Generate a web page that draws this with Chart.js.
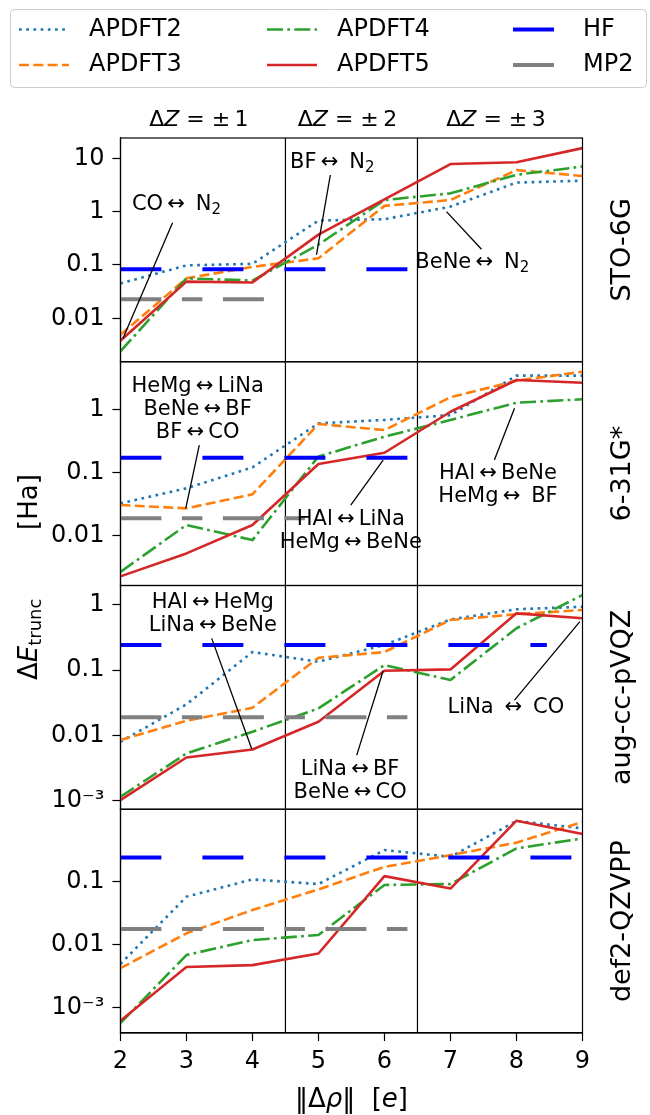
<!DOCTYPE html>
<html>
<head>
<meta charset="utf-8">
<title>APDFT truncation error</title>
<script src="https://cdn.jsdelivr.net/npm/chart.js@4.4.0/dist/chart.umd.min.js"></script>
<style>
  html, body { margin: 0; padding: 0; background: #fff; }
  #wrap { width: 650px; height: 1115px; }
</style>
</head>
<body>
<div id="wrap"><canvas id="chart" width="650" height="1115"></canvas></div>
<script>
const xVals = [2, 3, 4, 5, 6, 7, 8, 9];
const basisNames = ['STO-6G', '6-31G*', 'aug-cc-pVQZ', 'def2-QZVPP'];
const seriesNames = ['APDFT2', 'APDFT3', 'APDFT4', 'APDFT5'];

// STO-6G
const sto6gA2 = [0.045, 0.098, 0.105, 0.68, 0.72, 1.24, 3.5, 3.8];
const sto6gA3 = [0.0049, 0.056, 0.092, 0.133, 1.28, 1.65, 6.0, 4.65];
const sto6gA4 = [0.0024, 0.056, 0.051, 0.24, 1.65, 2.2, 4.9, 7.0];
const sto6gA5 = [0.0038, 0.0486, 0.047, 0.37, 1.7, 7.8, 8.4, 15.5];
// 6-31G*
const g631A2 = [0.0327, 0.0565, 0.121, 0.6, 0.68, 0.81, 3.4, 3.4];
const g631A3 = [0.0308, 0.0273, 0.0454, 0.586, 0.47, 1.55, 2.83, 3.93];
const g631A4 = [0.0027, 0.0149, 0.0086, 0.18, 0.37, 0.68, 1.27, 1.44];
const g631A5 = [0.0023, 0.0053, 0.0149, 0.137, 0.206, 0.916, 2.9, 2.63];
// aug-cc-pVQZ
const augA2 = [0.008, 0.03, 0.19, 0.135, 0.244, 0.6, 0.86, 0.94];
const augA3 = [0.0085, 0.0168, 0.0266, 0.155, 0.19, 0.59, 0.72, 0.84];
const augA4 = [0.00115, 0.0053, 0.0114, 0.026, 0.12, 0.071, 0.44, 1.42];
const augA5 = [0.00102, 0.0046, 0.0061, 0.0162, 0.098, 0.103, 0.745, 0.625];
// def2-QZVPP
const defA2 = [0.0049, 0.0577, 0.109, 0.092, 0.32, 0.25, 0.93, 0.71];
const defA3 = [0.0042, 0.0151, 0.0354, 0.0757, 0.173, 0.266, 0.42, 0.90];
const defA4 = [0.00056, 0.0068, 0.0118, 0.0142, 0.089, 0.092, 0.34, 0.49];
const defA5 = [0.00061, 0.0044, 0.0047, 0.0072, 0.123, 0.078, 0.94, 0.575];

// reference levels (HF, MP2) and how far along x they run
const hfLevel = [0.083, 0.172, 0.244, 0.244];
const mp2Level = [0.0227, 0.019, 0.019, 0.0177];
const hfEnd = [6.5, 6.5, 8.46, 9];
const mp2End = [4.4, 5.0, 6.5, 6.5];

// y axes
const yMin = [0.00153, 0.00165, 0.00074, 0.00039];
const yMax = [24.0, 5.64, 1.99, 1.43];
const yTickVals = [[0.01, 0.1, 1, 10], [0.01, 0.1, 1], [0.001, 0.01, 0.1, 1], [0.001, 0.01, 0.1]];
const yTickText = [['0.01', '0.1', '1', '10'], ['0.01', '0.1', '1'], ['10\u207B\u00B3', '0.01', '0.1', '1'], ['10\u207B\u00B3', '0.01', '0.1']];

// sections of |dZ|
const sectionEdges = [4.5, 6.5];
const sectionTitles = ['1', '2', '3'];

const panelData = [
  [sto6gA2, sto6gA3, sto6gA4, sto6gA5],
  [g631A2, g631A3, g631A4, g631A5],
  [augA2, augA3, augA4, augA5],
  [defA2, defA3, defA4, defA5]
];

// labelled pairs: text centre, leader line start/end (data coords)
const notes = [
  { panel: 0, lines: ['CO\u2009\u2194\u2009 N_2'], at: [2.85, 1.33], from: [2.79, 0.62], to: [2.04, 0.0042] },
  { panel: 0, lines: ['BF\u2009\u2194\u2009 N_2'], at: [5.21, 8.2], from: [5.18, 4.86], to: [4.97, 0.154] },
  { panel: 0, lines: ['BeNe\u2009\u2194\u2009 N_2'], at: [7.33, 0.109], from: [7.47, 0.197], to: [6.94, 1.0] },
  { panel: 1, lines: ['HeMg\u2009\u2194\u2009LiNa', 'BeNe\u2009\u2194\u2009BF', 'BF\u2009\u2194\u2009CO'], at: [3.17, 0.975], from: [3.195, 0.273], to: [2.99, 0.0273] },
  { panel: 1, lines: ['HAl\u2009\u2194\u2009LiNa', 'HeMg\u2009\u2194\u2009BeNe'], at: [5.49, 0.012], from: [5.49, 0.0308], to: [5.98, 0.158] },
  { panel: 1, lines: ['HAl\u2009\u2194\u2009BeNe', 'HeMg\u2009\u2194\u2009 BF'], at: [7.72, 0.063], from: [7.665, 0.158], to: [7.97, 1.04] },
  { panel: 2, lines: ['HAl\u2009\u2194\u2009HeMg', 'LiNa\u2009\u2194\u2009BeNe'], at: [3.40, 0.72], from: [3.383, 0.308], to: [3.99, 0.0062] },
  { panel: 2, lines: ['LiNa\u2009\u2194\u2009BF', 'BeNe\u2009\u2194\u2009CO'], at: [5.48, 0.0020], from: [5.58, 0.005], to: [5.98, 0.098] },
  { panel: 2, lines: ['LiNa \u2009\u2194\u2009 CO'], at: [7.84, 0.0266], from: [7.97, 0.0349], to: [8.96, 0.555] }
];

const FONT = "'DejaVu Sans', sans-serif";
const seriesColors = ['#1f77b4', '#ff7f0e', '#2ca02c', '#d62728'];
const seriesDash = [[2.7, 4.5], [10, 4.3], [16, 4.3, 2.7, 4.3], []];
const hfStyle = { color: '#0000ff', dash: [41, 41] };
const mp2Style = { color: '#808080', dash: [41, 20.5, 20.5, 20.5] };

Chart.defaults.font.family = FONT;
Chart.defaults.color = '#000';

const datasets = [];
panelData.forEach((group, p) => {
  const yID = 'y' + p;
  group.forEach((vals, s) => {
    datasets.push({
      label: seriesNames[s],
      yAxisID: yID,
      data: xVals.map((x, i) => ({ x: x, y: vals[i] })),
      borderColor: seriesColors[s],
      borderWidth: 2.6,
      borderDash: seriesDash[s],
      borderJoinStyle: 'round',
      pointRadius: 0,
      fill: false,
      order: 6 - s
    });
  });
  datasets.push({
    label: 'HF', yAxisID: yID,
    data: [{ x: xVals[0], y: hfLevel[p] }, { x: hfEnd[p], y: hfLevel[p] }],
    borderColor: hfStyle.color, borderWidth: 4, borderDash: hfStyle.dash, pointRadius: 0, order: 2
  });
  datasets.push({
    label: 'MP2', yAxisID: yID,
    data: [{ x: xVals[0], y: mp2Level[p] }, { x: mp2End[p], y: mp2Level[p] }],
    borderColor: mp2Style.color, borderWidth: 4, borderDash: mp2Style.dash, pointRadius: 0, order: 1
  });
});

const scales = {
  x: {
    type: 'linear', position: 'bottom', min: 2, max: 9,
    ticks: { stepSize: 1, font: { size: 24 }, padding: 6, color: '#000' },
    grid: { drawOnChartArea: false, tickLength: 8, tickColor: '#000', tickWidth: 1.2 },
    border: { color: '#000', width: 1.2 },
    afterFit: function (s) { s.height = 82; }
  }
};
basisNames.forEach((b, p) => {
  scales['y' + p] = {
    type: 'logarithmic', position: 'left', stack: 'panels', stackWeight: 1, weight: 4 - p,
    min: yMin[p], max: yMax[p],
    afterBuildTicks: function (s) { s.ticks = yTickVals[p].map(v => ({ value: v })); },
    ticks: {
      autoSkip: false, font: { size: 24 }, padding: 8, color: '#000',
      callback: function (v) {
        const k = yTickVals[p].indexOf(v);
        return k < 0 ? '' : yTickText[p][k];
      }
    },
    grid: { drawOnChartArea: false, tickLength: 8, tickColor: '#000', tickWidth: 1.2 },
    border: { color: '#000', width: 1.2 },
    afterFit: function (s) { s.width = 120.4; }
  };
});

function drawRich(ctx, parts, x, y, align) {
  let w = 0;
  parts.forEach(pt => { ctx.font = pt.font; w += ctx.measureText(pt.t).width; });
  let cx = align === 'center' ? x - w / 2 : x;
  parts.forEach(pt => {
    ctx.font = pt.font;
    ctx.fillText(pt.t, cx, y + (pt.dy || 0));
    cx += ctx.measureText(pt.t).width;
  });
}

function noteParts(str, size) {
  const k = str.indexOf('_');
  if (k < 0) return [{ t: str, font: size + 'px ' + FONT }];
  return [
    { t: str.slice(0, k), font: size + 'px ' + FONT },
    { t: str.slice(k + 1), font: Math.round(size * 0.7) + 'px ' + FONT, dy: 5 }
  ];
}

const decorations = {
  id: 'decorations',
  beforeDatasetsDraw(chart) {
    const ctx = chart.ctx;
    const xs = chart.scales.x;
    ctx.save();
    ctx.strokeStyle = '#000';
    ctx.lineWidth = 1.2;
    sectionEdges.forEach(e => {
      const px = xs.getPixelForValue(e);
      ctx.beginPath();
      ctx.moveTo(px, chart.chartArea.top);
      ctx.lineTo(px, chart.chartArea.bottom);
      ctx.stroke();
    });
    ctx.restore();
  },
  afterDatasetsDraw(chart) {
    const ctx = chart.ctx;
    const xs = chart.scales.x;
    const area = chart.chartArea;
    ctx.save();
    // panel frames
    ctx.strokeStyle = '#000';
    ctx.lineWidth = 1.2;
    basisNames.forEach((b, p) => {
      const ys = chart.scales['y' + p];
      ctx.strokeRect(area.left, ys.top, area.right - area.left, ys.bottom - ys.top);
    });
    // annotations
    notes.forEach(n => {
      const ys = chart.scales['y' + n.panel];
      ctx.strokeStyle = '#000';
      ctx.lineWidth = 1.3;
      ctx.beginPath();
      ctx.moveTo(xs.getPixelForValue(n.from[0]), ys.getPixelForValue(n.from[1]));
      ctx.lineTo(xs.getPixelForValue(n.to[0]), ys.getPixelForValue(n.to[1]));
      ctx.stroke();
      const cx = xs.getPixelForValue(n.at[0]);
      const cy = ys.getPixelForValue(n.at[1]);
      const lh = 23;
      ctx.fillStyle = '#000';
      ctx.textAlign = 'left';
      ctx.textBaseline = 'middle';
      n.lines.forEach((ln, i) => {
        const y = cy + (i - (n.lines.length - 1) / 2) * lh;
        drawRich(ctx, noteParts(ln, 21), cx, y, 'center');
      });
    });
    ctx.restore();
  },
  afterDraw(chart) {
    const ctx = chart.ctx;
    const xs = chart.scales.x;
    const area = chart.chartArea;
    ctx.save();
    ctx.fillStyle = '#000';
    ctx.textBaseline = 'middle';
    ctx.textAlign = 'left';

    // section titles
    const bounds = [xs.min].concat(sectionEdges, [xs.max]);
    sectionTitles.forEach((t, i) => {
      const mid = (bounds[i] + bounds[i + 1]) / 2;
      drawRich(ctx, [
        { t: '\u0394', font: '22px ' + FONT },
        { t: 'Z', font: 'italic 22px ' + FONT },
        { t: ' = \u00B1\u2009' + t, font: '22px ' + FONT }
      ], xs.getPixelForValue(mid) - 4, 120, 'center');
    });

    // basis set names on the right
    basisNames.forEach((b, p) => {
      const ys = chart.scales['y' + p];
      ctx.save();
      ctx.translate(623, (ys.top + ys.bottom) / 2);
      ctx.rotate(-Math.PI / 2);
      ctx.textAlign = 'center';
      ctx.font = '27px ' + FONT;
      ctx.fillText(b, 0, 0);
      ctx.restore();
    });

    // y label
    ctx.save();
    ctx.translate(30, 680);
    ctx.rotate(-Math.PI / 2);
    drawRich(ctx, [
      { t: '\u0394', font: '26px ' + FONT },
      { t: 'E', font: 'italic 26px ' + FONT },
      { t: 'trunc', font: '18px ' + FONT, dy: 6 }
    ], 0, 0, 'left');
    ctx.font = '26px ' + FONT;
    ctx.fillText('[Ha]', 150, 0);
    ctx.restore();

    // x label
    drawRich(ctx, [
      { t: '\u2016\u0394', font: '26px ' + FONT },
      { t: '\u03C1', font: 'italic 26px ' + FONT },
      { t: '\u2016  [', font: '26px ' + FONT },
      { t: 'e', font: 'italic 26px ' + FONT },
      { t: ']', font: '26px ' + FONT }
    ], (area.left + area.right) / 2, 1100, 'center');

    // legend
    ctx.beginPath();
    ctx.roundRect(10.5, 9.5, 636, 78, 4);
    ctx.fillStyle = '#fff';
    ctx.fill();
    ctx.strokeStyle = '#cccccc';
    ctx.lineWidth = 1;
    ctx.stroke();
    const entries = seriesNames.map((n, s) => ({ name: n, color: seriesColors[s], dash: seriesDash[s], width: 2.6 }))
      .concat([{ name: 'HF', color: hfStyle.color, dash: hfStyle.dash, width: 4 },
               { name: 'MP2', color: mp2Style.color, dash: mp2Style.dash, width: 4 }]);
    const colX = [19, 267, 513];
    const rowY = [29.5, 65];
    entries.forEach((e, i) => {
      const c = Math.floor(i / 2), r = i % 2;
      ctx.strokeStyle = e.color;
      ctx.lineWidth = e.width;
      ctx.setLineDash(e.dash);
      ctx.beginPath();
      ctx.moveTo(colX[c], rowY[r]);
      ctx.lineTo(colX[c] + 50, rowY[r]);
      ctx.stroke();
      ctx.setLineDash([]);
      ctx.fillStyle = '#000';
      ctx.font = '24px ' + FONT;
      ctx.fillText(e.name, colX[c] + 70, rowY[r]);
    });
    ctx.restore();
  }
};

new Chart(document.getElementById('chart').getContext('2d'), {
  type: 'line',
  data: { datasets: datasets },
  options: {
    responsive: false,
    animation: false,
    devicePixelRatio: 1,
    layout: { padding: { left: 0, right: 67.5, top: 138, bottom: 0 } },
    plugins: { legend: { display: false }, tooltip: { enabled: false } },
    scales: scales
  },
  plugins: [decorations]
});
</script>
</body>
</html>
